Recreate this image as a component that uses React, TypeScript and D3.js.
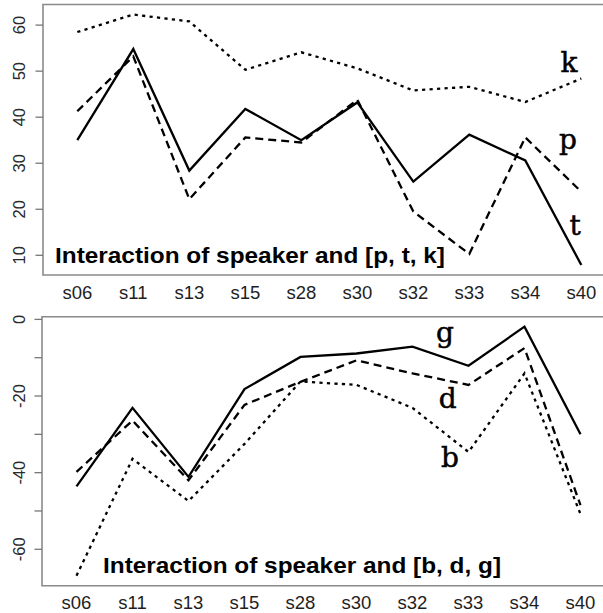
import React from "react";
import * as d3 from "d3";

const speakers = ["s06", "s11", "s13", "s15", "s28", "s30", "s32", "s33", "s34", "s40"];

// [p, t, k] panel
const kValues = [58.5, 62.3, 60.8, 50.3, 54.1, 50.6, 45.8, 46.6, 43.3, 48.4];
const pValues = [41.3, 53.2, 22.2, 35.6, 34.5, 43.8, 19.5, 10.3, 35.6, 23.8];
const tValues = [35.0, 54.8, 28.4, 41.8, 35.0, 43.2, 26.0, 36.2, 30.6, 7.9];
const topTicks = [10, 20, 30, 40, 50, 60];
const topTickLabels = ["10", "20", "30", "40", "50", "60"];

// [b, d, g] panel
const gValues = [-43.6, -23.1, -41.1, -18.2, -9.8, -8.9, -7.1, -12.1, -1.9, -30.0];
const dValues = [-39.8, -26.4, -42.0, -22.3, -16.3, -10.7, -14.1, -17.1, -7.5, -48.5];
const bValues = [-66.9, -36.4, -47.4, -32.5, -16.2, -17.1, -23.1, -34.6, -14.1, -50.8];
const bottomTicks = [0, -10, -20, -30, -40, -50, -60];
const bottomTickLabels = ["0", "", "-20", "", "-40", "", "-60"];

const SOLID = "none";
const DASHED = "8,5";
const DOTTED = "3.2,4.3";

type Series = { name: string; values: number[]; dash: string; labelAt: [number, number] };

type Panel = {
  top: number;
  bottom: number;
  left: number;
  firstX: number;
  title: string;
  titleX: number;
  titleY: number;
  titleWidth: number;
  ticks: number[];
  tickLabels: string[];
  series: Series[];
  labelY: number;
};

const panels: Panel[] = [
  {
    top: 4.5,
    bottom: 275,
    left: 43,
    firstX: 77.3,
    title: "Interaction of speaker and [p, t, k]",
    titleX: 55,
    titleY: 263,
    titleWidth: 390,
    ticks: topTicks,
    tickLabels: topTickLabels,
    labelY: 292,
    series: [
      { name: "k", values: kValues, dash: DOTTED, labelAt: [8.78, 49.9] },
      { name: "p", values: pValues, dash: DASHED, labelAt: [8.76, 33.1] },
      { name: "t", values: tValues, dash: SOLID, labelAt: [8.89, 14.4] },
    ],
  },
  {
    top: 316.7,
    bottom: 585.7,
    left: 42,
    firstX: 76.5,
    title: "Interaction of speaker and [b, d, g]",
    titleX: 103,
    titleY: 573,
    titleWidth: 398,
    ticks: bottomTicks,
    tickLabels: bottomTickLabels,
    labelY: 602,
    series: [
      { name: "g", values: gValues, dash: SOLID, labelAt: [6.58, -5.9] },
      { name: "d", values: dValues, dash: DASHED, labelAt: [6.63, -23.0] },
      { name: "b", values: bValues, dash: DOTTED, labelAt: [6.67, -38.4] },
    ],
  },
];

const STEP = 56;

function PanelView({ p }: { p: Panel }) {
  const all = p.series.flatMap((s) => s.values);
  const [lo, hi] = d3.extent(all) as [number, number];
  const pad = (hi - lo) * 0.04;
  const y = d3.scaleLinear().domain([lo - pad, hi + pad]).range([p.bottom, p.top]);
  const x = d3
    .scaleLinear()
    .domain([0, speakers.length - 1])
    .range([p.firstX, p.firstX + STEP * (speakers.length - 1)]);
  const line = d3
    .line<number>()
    .x((_, i) => x(i))
    .y((v) => y(v));

  return (
    <g>
      {/* plot frame (right side runs off the canvas) */}
      <path
        d={`M640,${p.top}H${p.left}V${p.bottom}H640`}
        fill="none"
        stroke="#8a8a8a"
        strokeWidth={1.6}
      />
      {p.ticks.map((t, i) => (
        <g key={t}>
          <line x1={p.left - 7.5} x2={p.left} y1={y(t)} y2={y(t)} stroke="#777" strokeWidth={1.3} />
          {p.tickLabels[i] && (
            <text
              transform={`translate(24.5,${y(t)}) rotate(-90)`}
              textAnchor="middle"
              fontFamily="Liberation Sans, Arial, sans-serif"
              fontSize={16.5}
              fill="#2a2a2a"
            >
              {p.tickLabels[i]}
            </text>
          )}
        </g>
      ))}
      {speakers.map((s, i) => (
        <text
          key={s}
          x={x(i)}
          y={p.labelY}
          dy="0.36em"
          textAnchor="middle"
          fontFamily="Liberation Sans, Arial, sans-serif"
          fontSize={18.5}
          fill="#1e1e1e"
        >
          {s}
        </text>
      ))}
      {p.series.map((s) => (
        <path
          key={s.name}
          d={line(s.values) ?? ""}
          fill="none"
          stroke="#000"
          strokeWidth={2.3}
          strokeDasharray={s.dash}
          strokeLinejoin="miter"
        />
      ))}
      {p.series.map((s) => (
        <text
          key={`l-${s.name}`}
          x={x(s.labelAt[0])}
          y={y(s.labelAt[1])}
          textAnchor="middle"
          fontFamily="DejaVu Serif, serif"
          fontSize={28}
          fill="#000"
          stroke="#000"
          strokeWidth={0.5}
        >
          {s.name}
        </text>
      ))}
      <text
        x={p.titleX}
        y={p.titleY}
        fontFamily="Liberation Sans, Arial, sans-serif"
        fontWeight="bold"
        fontSize={21.5}
        textLength={p.titleWidth}
        lengthAdjust="spacingAndGlyphs"
        fill="#000"
      >
        {p.title}
      </text>
    </g>
  );
}

export default function App() {
  return (
    <svg
      width={603}
      height={613}
      style={{ position: "absolute", left: 0, top: 0, background: "#fff" }}
    >
      <rect width={603} height={613} fill="#fff" />
      {panels.map((p) => (
        <PanelView key={p.title} p={p} />
      ))}
    </svg>
  );
}
